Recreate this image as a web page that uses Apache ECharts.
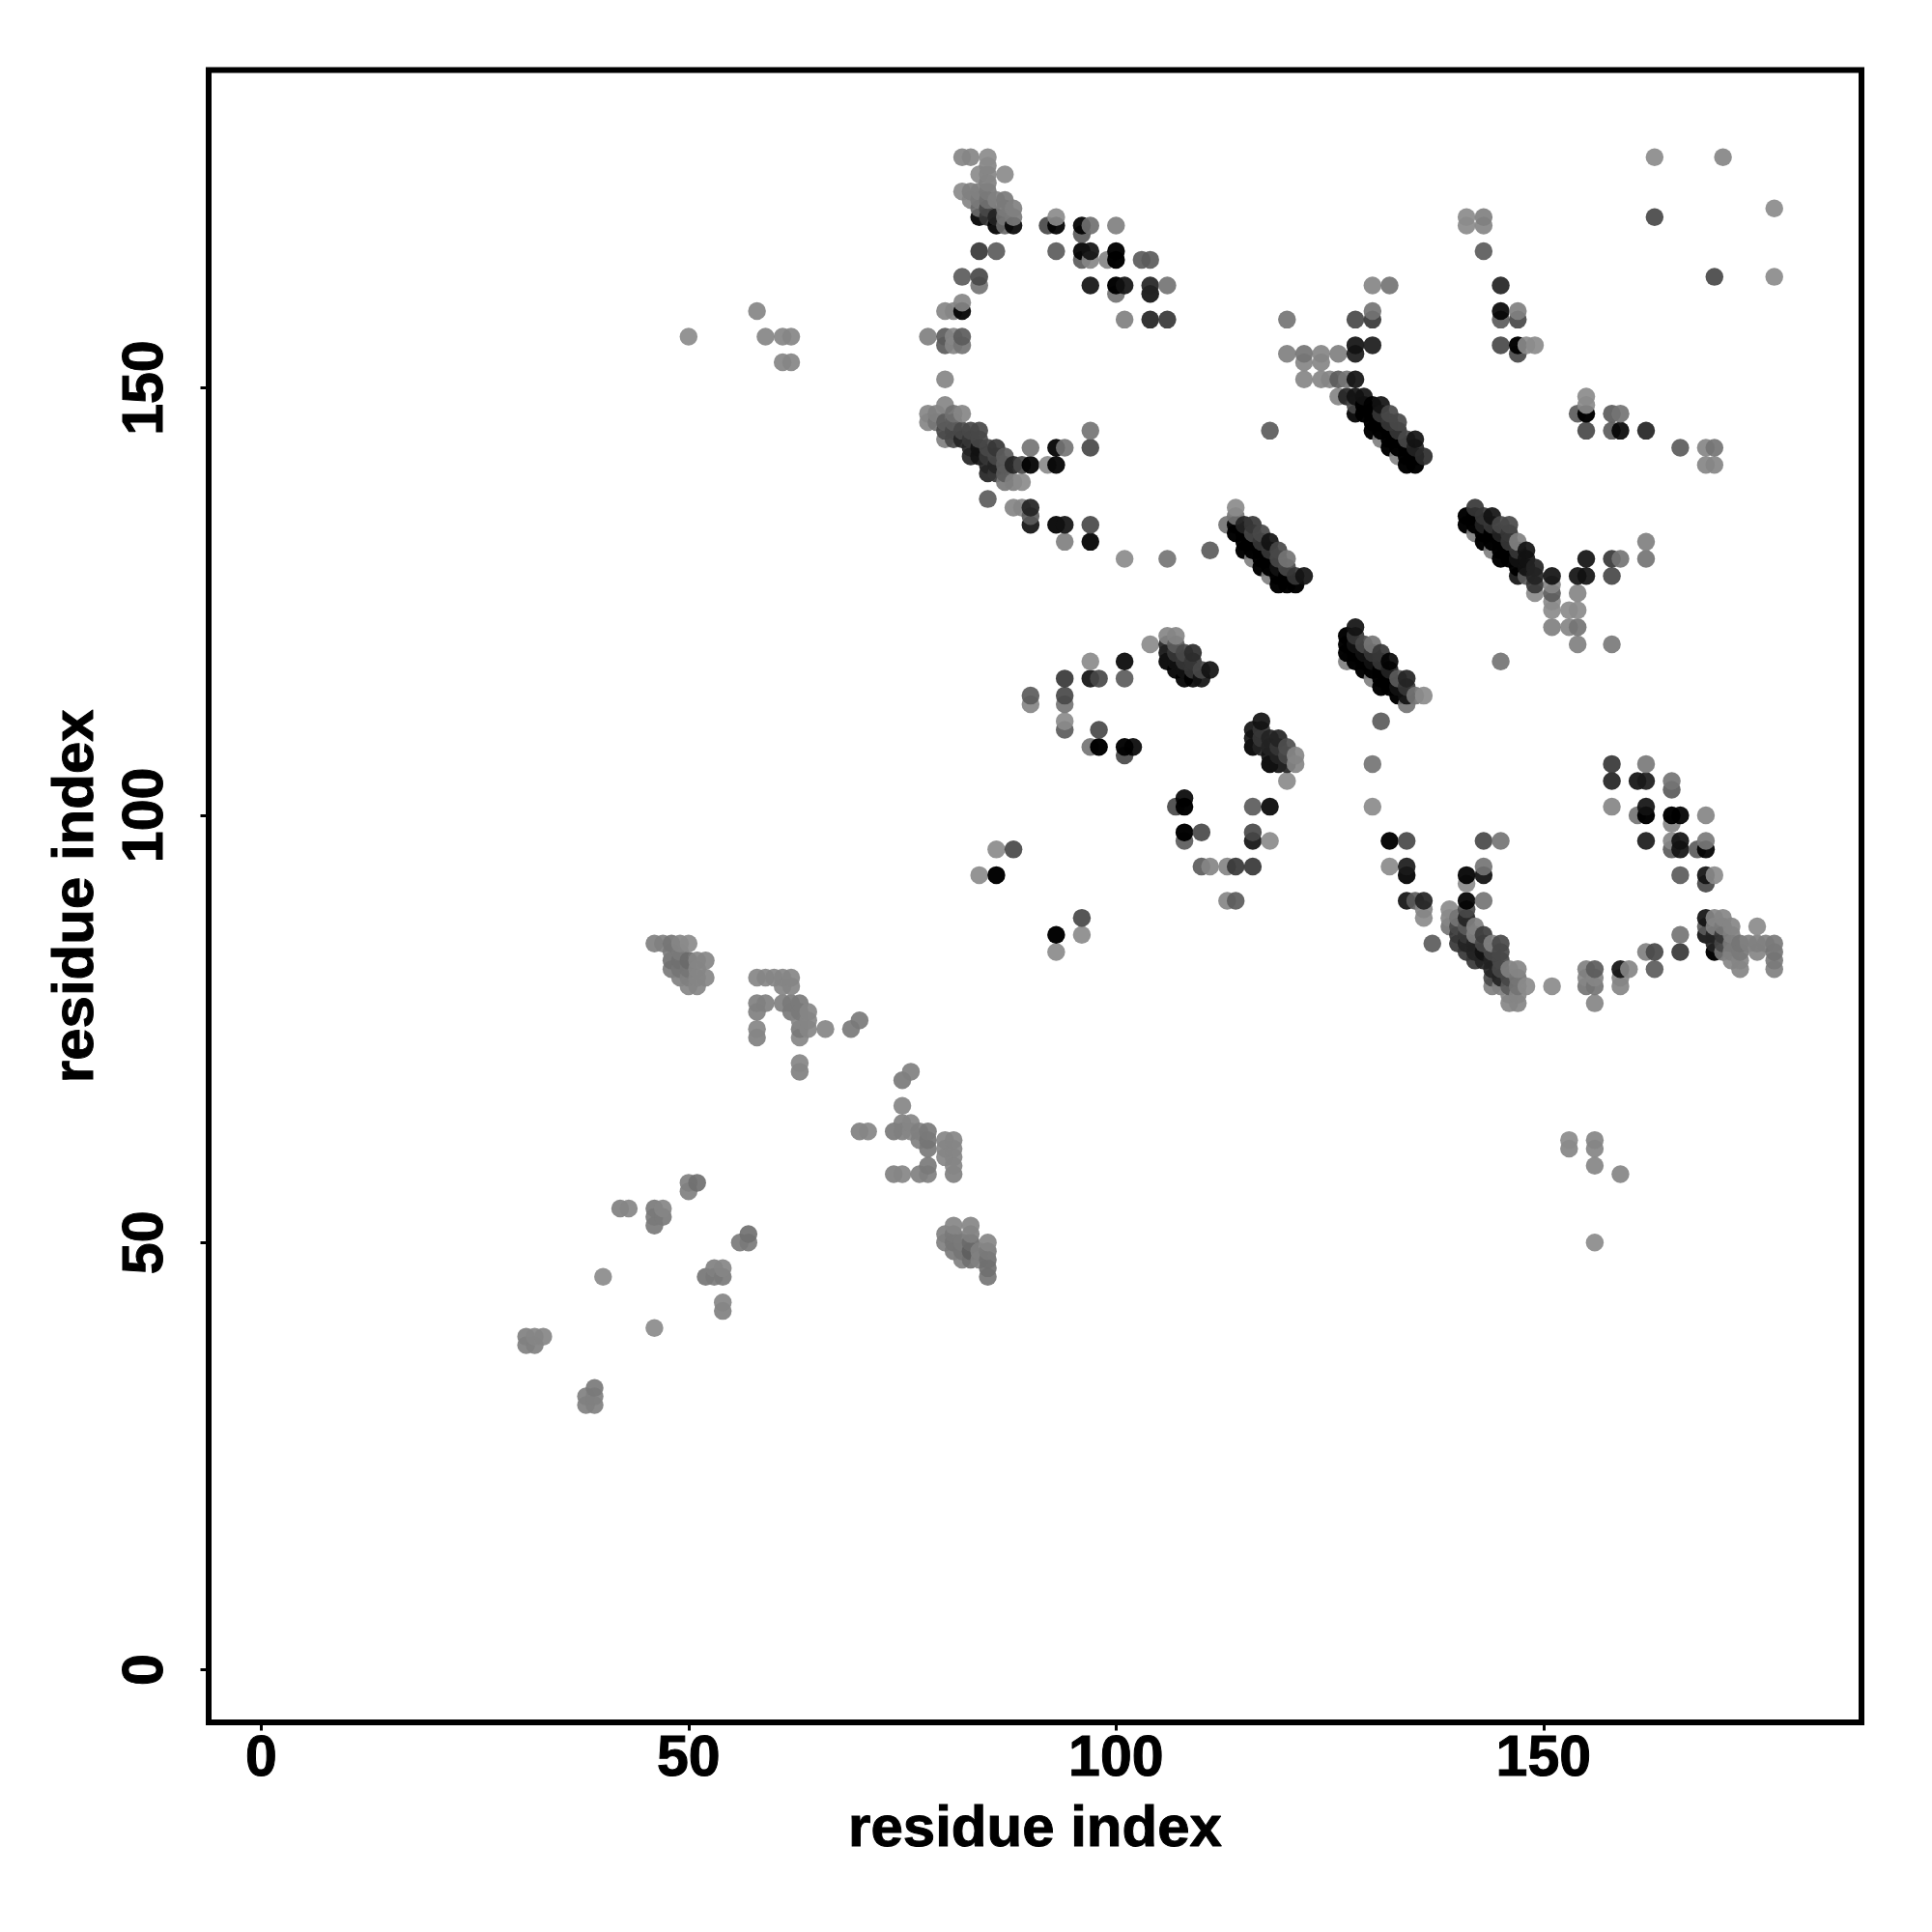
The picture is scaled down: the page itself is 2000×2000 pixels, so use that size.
<!DOCTYPE html>
<html><head><meta charset="utf-8">
<style>html,body{margin:0;background:#fff}#c{width:2000px;height:2000px}</style>
<script src="https://cdn.jsdelivr.net/npm/echarts@6/dist/echarts.min.js"></script></head>
<body><div id="c"></div>
<script>
// each contact: [residue x, residue y, displayed grey level]
const topColumn=[[82,177,135],[83,177,135],[85,177,140],[85,176,135],[84,175,140],[85,175,135],[87,175,140],[85,174,130],[82,173,140],[83,173,130],[84,173,130],[85,173,125],[83,172,135],[84,172,125],[85,172,115],[86,172,130],[87,172,125],[84,171,110],[85,171,85],[87,171,125],[88,171,130],[84,170,17],[85,170,68],[86,170,51],[87,170,120],[88,170,125],[86,169,17],[87,169,110],[88,169,25]];
const topArc=[[92,169,85],[93,169,17],[93,170,140],[96,169,17],[97,169,115],[96,168,102],[100,169,130],[84,166,68],[86,166,102],[93,166,102],[96,166,17],[97,166,34],[96,165,102],[97,165,135],[99,165,135],[100,166,10],[100,165,5],[103,165,102],[104,165,102],[82,163,102],[84,163,85],[84,162,119],[97,162,34],[100,162,5],[101,162,34],[100,161,119],[104,162,51],[104,161,34],[106,162,119],[101,158,130],[104,158,51],[106,158,68],[82,160,135],[82,159,17],[80,159,135],[81,159,135],[78,156,130],[80,156,102],[81,156,135],[82,156,102],[80,155,102],[81,155,135],[82,155,119],[80,151,135]];
const band80=[[80,148,135],[78,147,135],[79,147,130],[81,147,115],[82,147,135],[78,146,135],[79,146,120],[80,146,102],[81,146,102],[80,145,85],[81,145,85],[82,145,85],[83,145,85],[84,145,85],[80,144,130],[81,144,85],[82,144,51],[83,144,68],[84,144,85],[83,143,51],[84,143,34],[85,143,85],[86,143,68],[83,142,51],[84,142,34],[85,142,68],[86,142,85],[87,142,102],[85,141,51],[86,141,51],[87,141,102],[88,141,51],[89,141,85],[90,141,17],[85,140,51],[86,140,68],[87,140,102],[87,139,125],[88,139,130],[89,139,140],[85,137,102],[88,136,135],[89,136,135],[90,136,51],[90,135,102],[90,134,34],[90,143,119],[93,143,17],[94,143,119],[97,143,85],[97,145,119],[92,141,140],[93,141,17],[93,134,17],[94,134,34],[97,134,85],[94,132,130],[97,132,17],[101,130,140],[106,130,119],[111,131,102]];
const arc104=[[104,120,140],[106,121,135],[107,121,135],[106,120,51],[107,120,102],[106,119,34],[107,119,68],[108,119,85],[109,119,58],[97,118,140],[101,118,25],[106,118,17],[107,118,34],[108,118,68],[109,118,68],[107,117,17],[108,117,34],[109,117,68],[110,117,85],[111,117,34],[94,116,68],[97,116,34],[98,116,85],[101,116,102],[108,116,17],[109,116,25],[110,116,34],[90,114,102],[94,114,85],[90,113,135],[94,113,119],[94,111,140],[94,110,102],[98,110,85],[97,108,119],[98,108,5],[101,108,10],[102,108,25],[101,107,85]];
const cluster116=[[117,111,34],[116,110,34],[117,110,68],[116,109,34],[117,109,68],[118,109,51],[119,109,51],[116,108,17],[117,108,51],[118,108,51],[119,108,68],[120,108,90],[118,107,34],[119,107,51],[120,107,85],[121,107,135],[118,106,17],[119,106,34],[120,106,51],[121,106,135],[120,104,140],[108,102,25],[107,101,85],[108,101,5],[116,101,102],[118,101,25],[108,98,5],[110,98,85],[108,97,102],[116,98,85],[116,97,34],[118,97,140],[110,94,102],[111,94,135],[113,94,135],[114,94,68],[116,94,68],[113,90,135],[114,90,102],[84,93,140],[86,93,5],[86,96,140],[88,96,85],[93,86,5],[93,84,140],[96,88,85],[96,86,140]];
const rowsUpperMid=[[118,145,102],[120,158,119],[120,154,130],[122,154,119],[124,154,135],[126,154,130],[128,155,34],[130,155,42],[128,154,42],[122,153,135],[124,153,135],[122,151,135],[124,151,135],[125,151,135],[126,151,102],[127,151,119],[128,151,34],[126,149,135],[127,149,51],[128,149,34],[129,149,34],[128,148,85],[129,148,5],[130,148,17],[131,148,34],[128,147,17],[129,147,5],[130,147,5],[131,147,68],[132,147,85],[130,146,5],[131,146,5],[132,146,68],[133,146,85],[130,145,5],[131,145,5],[132,145,5],[133,145,68],[131,144,130],[132,144,5],[133,144,5],[134,144,85],[135,144,34],[132,143,5],[133,143,5],[134,143,5],[135,143,51],[133,142,135],[134,142,5],[135,142,5],[136,142,58],[134,141,5],[135,141,5]];
const upperRight=[[141,170,140],[143,170,130],[141,169,140],[143,169,135],[143,166,102],[145,162,51],[145,159,25],[147,159,130],[145,158,102],[147,158,85],[145,155,85],[147,155,5],[148,155,140],[149,155,140],[147,154,85],[130,162,135],[132,162,119],[130,159,119],[128,158,85],[130,158,68],[163,177,140],[171,177,135],[177,171,140],[163,170,85],[170,163,85],[177,163,140],[155,149,140],[155,148,140],[155,147,5],[154,147,102],[155,145,85],[158,147,102],[159,147,119],[158,145,102],[159,145,25],[162,145,51],[166,143,102],[169,143,135],[170,143,119],[169,141,135],[170,141,135],[50,156,140],[58,159,135],[59,156,135],[61,156,135],[62,156,135],[61,153,135],[62,153,135]];
const helix115=[[114,136,140],[113,134,119],[114,135,119],[114,134,17],[115,134,51],[116,134,68],[114,133,5],[115,133,5],[116,133,85],[117,133,85],[115,132,5],[116,132,5],[117,132,68],[118,132,34],[115,131,5],[116,131,5],[117,131,5],[118,131,68],[119,131,85],[116,130,130],[117,130,5],[118,130,5],[119,130,85],[120,130,119],[117,129,5],[118,129,5],[119,129,34],[120,129,85],[118,128,130],[119,128,5],[120,128,17],[121,128,68],[122,128,34],[119,127,5],[120,127,5],[121,127,5]];
const helix128=[[128,122,34],[127,121,5],[128,121,68],[127,120,5],[128,120,34],[129,120,85],[130,120,119],[127,119,5],[128,119,5],[129,119,34],[130,119,68],[131,119,68],[127,118,130],[128,118,5],[129,118,5],[130,118,34],[131,118,68],[132,118,25],[129,117,5],[130,117,5],[131,117,5],[132,117,51],[130,116,130],[131,116,5],[132,116,5],[133,116,102],[134,116,51],[131,115,5],[132,115,5],[133,115,34],[134,115,68],[133,114,5],[134,114,34],[135,114,119],[136,114,140],[134,113,119],[131,111,102],[130,106,119]];
const helix141=[[142,136,68],[141,135,5],[142,135,17],[143,135,68],[144,135,34],[141,134,5],[142,134,5],[143,134,51],[144,134,68],[145,134,85],[146,134,85],[142,133,130],[143,133,5],[144,133,5],[145,133,51],[146,133,68],[143,132,5],[144,132,5],[145,132,5],[146,132,68],[147,132,130],[144,131,130],[145,131,5],[146,131,5],[147,131,68],[148,131,34],[145,130,5],[146,130,5],[147,130,34],[148,130,34],[155,130,34],[158,130,68],[159,130,119],[162,130,119],[162,132,130],[147,129,5],[148,129,34],[149,129,51],[147,128,34],[148,128,102],[149,128,51],[151,128,34],[154,128,34],[155,128,34],[158,128,85],[149,127,68],[151,127,135],[149,126,140],[151,126,102],[154,126,135],[151,125,140],[151,124,140],[153,124,140],[154,124,140],[151,122,130],[153,122,135],[154,122,119],[154,120,130],[158,120,125],[145,118,119]];
const lowerArc=[[130,101,140],[158,106,68],[158,104,51],[158,101,135],[132,97,10],[134,97,85],[143,97,85],[145,97,119],[132,94,140],[134,94,42],[134,93,17],[143,94,119],[143,93,30],[141,93,17],[141,92,140],[134,90,34],[135,90,102],[136,90,51],[136,89,135],[136,88,140],[141,90,17],[143,90,119],[141,89,85],[141,88,51],[139,89,140],[139,88,135],[139,87,119],[140,88,119],[140,87,85],[141,87,102],[142,87,130],[137,85,102],[140,86,68],[141,86,68],[142,86,130],[143,86,74],[140,85,68],[141,85,51],[142,85,51],[143,85,85],[144,85,130],[145,85,85],[141,84,68],[142,84,51],[143,84,34],[144,84,85],[145,84,85],[142,83,68],[143,83,51],[144,83,51],[145,83,85],[144,82,51],[145,82,85],[146,82,130],[147,82,135],[144,81,85],[145,81,51],[146,81,85],[147,81,120],[144,80,130],[145,80,130],[146,80,102],[147,80,119],[148,80,140],[151,80,140],[155,80,119],[156,80,119],[146,79,135],[147,79,135],[146,78,135],[147,78,135],[156,78,135],[155,82,130],[156,82,102],[159,82,34],[160,82,135],[155,81,135],[156,81,135],[159,81,135],[159,80,135]];
const rightArc=[[162,106,125],[161,104,34],[162,104,42],[165,104,119],[165,103,102],[161,100,119],[162,101,34],[162,100,5],[165,100,5],[166,100,17],[169,100,135],[165,99,135],[162,97,42],[165,97,135],[165,96,102],[166,97,34],[166,96,34],[168,96,102],[169,97,125],[169,96,17],[166,93,102],[169,93,34],[170,93,140],[169,92,85],[175,87,140],[169,88,34],[170,88,135],[171,88,135],[169,87,102],[170,87,130],[171,87,125],[172,87,135],[166,86,119],[169,86,34],[170,86,51],[171,86,68],[172,86,130],[170,85,51],[171,85,85],[172,85,125],[173,85,120],[174,85,130],[175,85,130],[176,85,130],[177,85,125],[162,84,130],[163,84,85],[166,84,68],[170,84,5],[171,84,119],[172,84,130],[173,84,125],[175,84,135],[177,84,119],[172,83,135],[173,83,135],[177,83,125],[163,82,102],[173,82,135],[177,82,130],[153,62,140],[153,61,135],[156,62,135],[156,61,135],[156,59,135],[159,58,135],[156,50,140]];
const lowerDiag1=[[46,85,130],[47,85,130],[48,85,120],[49,85,135],[50,85,140],[48,84,125],[49,84,125],[48,83,115],[49,83,115],[50,83,110],[51,83,135],[52,83,135],[48,82,125],[49,82,120],[50,82,120],[51,82,135],[49,81,130],[50,81,130],[51,81,135],[52,81,135],[50,80,135],[51,80,135],[58,81,135],[59,81,135],[60,81,135],[61,81,135],[62,81,135],[61,80,135],[62,80,135],[58,78,130],[59,78,130],[61,78,130],[62,78,125],[63,78,125],[58,77,130],[62,77,125],[63,77,125],[64,77,135],[63,76,135],[64,76,135],[58,75,135],[63,75,125],[64,75,135],[66,75,135],[69,75,125],[70,76,125],[58,74,130],[63,74,135],[63,71,135],[63,70,130]];
const lowerDiag2=[[76,70,130],[75,69,125],[75,66,135],[75,64,130],[76,64,135],[70,63,130],[71,63,135],[74,63,125],[75,63,130],[76,63,135],[77,63,130],[78,63,125],[77,62,130],[78,62,120],[80,62,135],[81,62,135],[78,61,125],[80,61,135],[81,61,135],[80,60,135],[81,60,135],[78,59,125],[81,59,135],[74,58,130],[75,58,135],[77,58,130],[78,58,130],[81,58,130],[81,52,135],[83,52,135],[80,51,130],[81,51,125],[83,51,130],[80,50,130],[81,50,120],[82,50,125],[83,50,110],[85,50,135],[81,49,125],[82,49,120],[83,49,105],[84,49,130],[85,49,125],[82,48,130],[83,48,115],[84,48,130],[85,48,115],[85,47,115],[85,46,120]];
const lowerDiag3=[[50,57,130],[51,57,115],[50,56,130],[42,54,130],[43,54,135],[46,54,125],[47,54,135],[46,53,125],[47,53,125],[46,52,125],[57,51,115],[56,50,125],[57,50,125],[53,47,130],[54,47,135],[52,46,120],[53,46,125],[54,46,125],[54,43,135],[54,42,130],[40,46,140],[46,40,140],[31,39,130],[32,39,135],[33,39,135],[31,38,130],[32,38,130],[39,33,125],[38,32,130],[39,32,130],[38,31,130],[39,31,130]];
const xTicks=[0,50,100,150];
const yTicks=[0,50,100,150];
const axisTitle='residue index';

const contacts=[].concat(topColumn,topArc,band80,arc104,cluster116,rowsUpperMid,upperRight,helix115,helix128,helix141,lowerArc,rightArc,lowerDiag1,lowerDiag2,lowerDiag3).sort((a,b)=>a[0]-b[0]||a[1]-b[1]);
const ALPHA=0.92;
function shade(v){
  // lighten the mid greys a touch: stacked dots in the reference stay lighter
  if(v<26){return 'rgba(0,0,0,'+(1-v/255)+')';}
  const t=v+(v>=110?8:2);
  const g=Math.round((t-255*(1-ALPHA))/ALPHA);
  return 'rgba('+g+','+g+','+g+','+ALPHA+')';
}
const font='"Liberation Sans",Arial,sans-serif';
function axis(ticks,rot,margin,gap){
  return {type:'value',min:-6.14,max:187.2,splitLine:{show:false},
    name:axisTitle,nameLocation:'middle',nameGap:gap,
    nameTextStyle:{fontFamily:font,fontWeight:'bold',fontSize:60,color:'#000',textBorderColor:'#000',textBorderWidth:1},
    axisLine:{show:false,onZero:false},
    axisTick:{show:true,length:8.5,lineStyle:{color:'#000',width:3},customValues:ticks},
    axisLabel:{show:true,customValues:ticks,fontFamily:font,fontWeight:'bold',fontSize:59,color:'#000',textBorderColor:'#000',textBorderWidth:1,rotate:rot,margin:margin}};
}
const chart=echarts.init(document.getElementById('c'),null,{renderer:'canvas'});
chart.setOption({animation:false,backgroundColor:'#fff',
  grid:{left:216,top:72.5,width:1711,height:1710.5,show:true,borderColor:'#000',borderWidth:6,backgroundColor:'transparent'},
  xAxis:axis(xTicks,0,9,81),yAxis:axis(yTicks,90,35,107),
  series:[{type:'scatter',symbol:'circle',symbolSize:18.5,large:false,clip:true,silent:true,itemStyle:{opacity:1},
    data:contacts.map(c=>({value:[c[0],c[1]],itemStyle:{color:shade(c[2]),opacity:1}}))}]
});
</script></body></html>
